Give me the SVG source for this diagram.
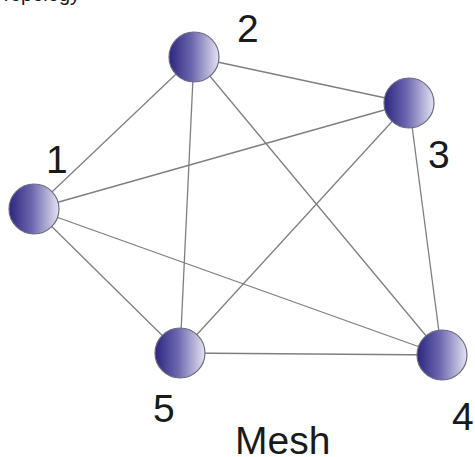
<svg xmlns="http://www.w3.org/2000/svg" width="475" height="457" viewBox="0 0 475 457">
<defs>
<linearGradient id="ball" x1="0" y1="0" x2="1" y2="0">
<stop offset="0" stop-color="#2c2680"/>
<stop offset="0.45" stop-color="#6b66ad"/>
<stop offset="1" stop-color="#e4e2f2"/>
</linearGradient>
</defs>
<style>
.edge{stroke:#7f7f7f;stroke-width:1.3;fill:none}
.node circle{fill:url(#ball);stroke:#6c6a80;stroke-width:1.2}
.lbl{font-family:"Liberation Sans",Arial,sans-serif;font-size:39px;fill:#1a1a1a}
.cap{font-family:"Liberation Sans",Arial,sans-serif;font-size:20px;fill:#1a1a1a}
</style>
<rect width="475" height="457" fill="#ffffff"/>
<text class="cap" x="0" y="1">Topology</text>
<g id="connectors">
<line class="edge" x1="34" y1="209" x2="194" y2="57"/>
<line class="edge" x1="34" y1="209" x2="409" y2="103"/>
<line class="edge" x1="34" y1="209" x2="442" y2="355"/>
<line class="edge" x1="34" y1="209" x2="180" y2="353"/>
<line class="edge" x1="194" y1="57" x2="409" y2="103"/>
<line class="edge" x1="194" y1="57" x2="442" y2="355"/>
<line class="edge" x1="194" y1="57" x2="180" y2="353"/>
<line class="edge" x1="409" y1="103" x2="442" y2="355"/>
<line class="edge" x1="409" y1="103" x2="180" y2="353"/>
<line class="edge" x1="442" y1="355" x2="180" y2="353"/>
</g>
<g id="node1" class="node"><circle cx="34" cy="209" r="25"/><text class="lbl" x="46" y="173">1</text></g>
<g id="node2" class="node"><circle cx="194" cy="57" r="25"/><text class="lbl" x="237" y="42">2</text></g>
<g id="node3" class="node"><circle cx="409" cy="103" r="25"/><text class="lbl" x="428" y="168">3</text></g>
<g id="node4" class="node"><circle cx="442" cy="355" r="25"/><text class="lbl" x="452" y="430">4</text></g>
<g id="node5" class="node"><circle cx="180" cy="353" r="25"/><text class="lbl" x="153" y="422">5</text></g>
<text class="lbl" x="235" y="454">Mesh</text>
</svg>
